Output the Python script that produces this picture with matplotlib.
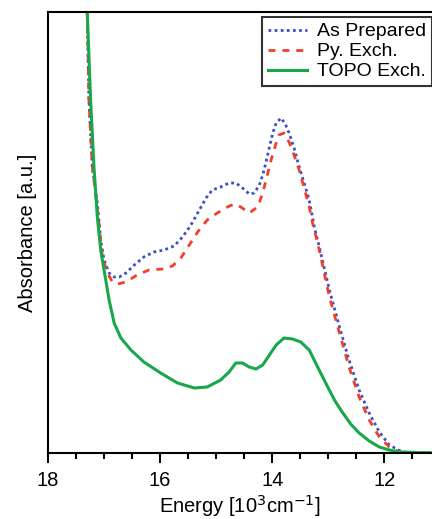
import matplotlib
matplotlib.use("Agg")
import matplotlib.pyplot as plt
from matplotlib.ticker import MultipleLocator, NullLocator

plt.rcParams['font.family'] = ['Liberation Sans', 'DejaVu Sans']

# Energy [10^3 cm^-1] and absorbance (arbitrary units)
x_as = [17.40, 17.30, 17.27, 17.21, 17.12, 17.06, 17.00, 16.91, 16.82, 16.73, 16.61,
        16.46, 16.29, 16.11, 15.93, 15.75, 15.60, 15.45, 15.30, 15.18, 15.07, 14.92,
        14.77, 14.65, 14.53, 14.41, 14.32, 14.23, 14.17, 14.11, 14.05, 13.99, 13.93,
        13.84, 13.76, 13.70, 13.61, 13.52, 13.43, 13.34, 13.25, 13.16, 12.98, 12.80,
        12.63, 12.45, 12.27, 12.09, 11.91, 11.68, 11.15]
y_as = [560, 441, 353, 286, 250, 213, 193, 180, 176, 176, 180,
        188, 196, 201, 203, 207, 216, 228, 243, 255, 263, 266,
        270, 270, 265, 259, 260, 268, 278, 291, 306, 320, 330,
        335, 328, 320, 305, 286, 270, 253, 226, 206, 163, 126,
        93, 63, 40, 21, 8, 1, 0]

x_py = [17.40, 17.30, 17.27, 17.21, 17.12, 17.03, 16.94, 16.85, 16.76, 16.61, 16.41,
        16.20, 15.96, 15.78, 15.63, 15.48, 15.33, 15.16, 14.98, 14.80, 14.68, 14.56,
        14.41, 14.26, 14.17, 14.11, 14.02, 13.93, 13.88, 13.79, 13.70, 13.61, 13.52,
        13.43, 13.34, 13.28, 13.16, 12.98, 12.80, 12.63, 12.45, 12.27, 12.09, 11.91,
        11.73, 11.15]
y_py = [560, 441, 353, 286, 245, 196, 180, 171, 169, 171, 178,
        183, 184, 187, 195, 208, 221, 233, 240, 246, 249, 246,
        240, 246, 260, 273, 293, 310, 318, 320, 311, 298, 283,
        265, 246, 230, 203, 156, 120, 86, 56, 33, 16, 6,
        1, 0]

x_topo = [17.40, 17.30, 17.24, 17.18, 17.12, 17.06, 16.97, 16.91, 16.82, 16.70, 16.52,
          16.29, 15.99, 15.69, 15.39, 15.16, 14.92, 14.77, 14.65, 14.53, 14.41, 14.29,
          14.17, 14.05, 13.93, 13.79, 13.64, 13.49, 13.34, 13.19, 13.01, 12.88, 12.74,
          12.60, 12.45, 12.27, 12.09, 11.91, 11.73, 11.15]
y_topo = [560, 441, 353, 286, 236, 203, 173, 153, 130, 115, 103,
          91, 80, 70, 65, 66, 73, 81, 90, 90, 86, 84,
          88, 98, 108, 115, 114, 111, 103, 86, 66, 52, 40,
          29, 20, 12, 6, 3, 1, 0]

labels = ["As Prepared", "Py. Exch.", "TOPO Exch."]
colors = ["#3a4fc4", "#f0402c", "#17a84a"]
xticks = [18, 16, 14, 12]

fig = plt.figure(figsize=(4.32, 5.19), dpi=100)
ax = fig.add_axes([48/432, 1-453/519, 1-48/432, (453-12)/519])

ax.plot(x_as, y_as, linestyle=(0, (1, 1.2)), color=colors[0], lw=2.0, label=labels[0])
ax.plot(x_py, y_py, linestyle=(0, (2.5, 2.5)), color=colors[1], lw=2.0, label=labels[1])
ax.plot(x_topo, y_topo, linestyle='-', color=colors[2], lw=2.2, label=labels[2])

ax.set_xlim(18, 11.15)
ax.set_ylim(0, 441)
ax.set_xticks(xticks)
ax.set_xticklabels([str(t) for t in xticks])
ax.xaxis.set_minor_locator(MultipleLocator(0.5))
ax.yaxis.set_major_locator(NullLocator())
ax.tick_params(axis='x', which='major', direction='out', length=7, width=1.5,
               labelsize=14.5, pad=6)
ax.tick_params(axis='x', which='minor', direction='out', length=4, width=1.5)
for s in ['left', 'bottom', 'top']:
    ax.spines[s].set_linewidth(1.5)
ax.spines['right'].set_visible(False)

ax.set_xlabel(r"Energy [10$^{3}$cm$^{-1}$]", fontsize=14.5, labelpad=2)
ax.set_ylabel("Absorbance [a.u.]", fontsize=14.5, labelpad=8)

leg = ax.legend(loc='upper right', bbox_to_anchor=(0.999, 1-17/519),
                bbox_transform=fig.transFigure, borderaxespad=0, fontsize=14,
                frameon=True, fancybox=False, handlelength=2.0, handletextpad=0.5,
                labelspacing=0.12, borderpad=0.3)
leg.get_frame().set_edgecolor('black')
leg.get_frame().set_linewidth(1.5)

fig.savefig("out.png", dpi=100)
